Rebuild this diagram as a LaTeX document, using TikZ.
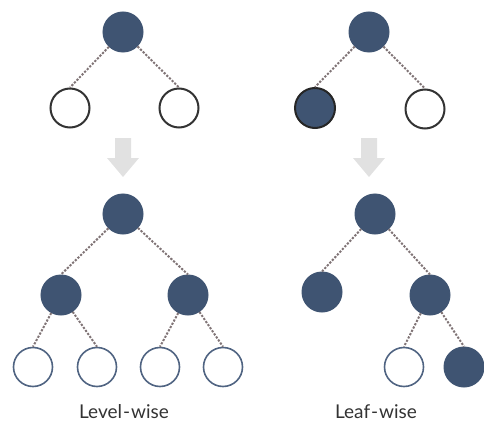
\documentclass[tikz,border=0pt]{standalone}
\usepackage{fontspec}
\setmainfont{Lato}
\begin{document}
\begin{tikzpicture}[x=1pt,y=-1pt,
  filled/.style={circle,minimum size=40pt,inner sep=0pt,fill=nodeblue,draw=nodeblue,line width=1pt},
  filledk/.style={circle,minimum size=40pt,inner sep=0pt,fill=nodeblue,draw=black!85,line width=2pt},
  opentop/.style={circle,minimum size=39pt,inner sep=0pt,fill=white,draw=black!80,line width=2pt},
  openbot/.style={circle,minimum size=39pt,inner sep=0pt,fill=white,draw=outblue,line width=1.6pt},
  link/.style={draw=linkgray,line width=2pt,dash pattern=on 2.2pt off 1.5pt},
  lbl/.style={text=black!80,font=\fontsize{19}{21}\selectfont}
]
\definecolor{nodeblue}{RGB}{63,84,114}
\definecolor{outblue}{RGB}{80,100,130}
\definecolor{linkgray}{RGB}{128,116,118}
\definecolor{arrgray}{RGB}{225,225,225}
\useasboundingbox (0,0) rectangle (484,433);

% top-left tree
\node[filled] (tlr) at (123,32) {};
\node[opentop] (tla) at (70,108) {};
\node[opentop] (tlb) at (179,108) {};
\draw[link] (tlr) -- (tla.north);
\draw[link] (tlr) -- (tlb.north);

% top-right tree
\node[filled] (trr) at (369,32) {};
\node[filledk] (tra) at (315,108) {};
\node[opentop] (trb) at (425,109) {};
\draw[link] (trr) -- (tra.north);
\draw[link] (trr) -- (trb.north);

% arrows
\fill[arrgray] (115,138) -- (131,138) -- (131,158) -- (139,158) -- (123,177) -- (107,158) -- (115,158) -- cycle;
\fill[arrgray] (361,138) -- (377,138) -- (377,158) -- (385,158) -- (369,177) -- (353,158) -- (361,158) -- cycle;

% bottom-left tree
\node[filled] (blr) at (123,214) {};
\node[filled] (bla) at (61,295) {};
\node[filled] (blb) at (188,295) {};
\node[openbot] (bl1) at (33,367) {};
\node[openbot] (bl2) at (97,367) {};
\node[openbot] (bl3) at (160,367) {};
\node[openbot] (bl4) at (223,367) {};
\draw[link] (blr) -- (bla.north);
\draw[link] (blr) -- (blb.north);
\draw[link] (bla) -- (bl1.north);
\draw[link] (bla) -- (bl2.north);
\draw[link] (blb) -- (bl3.north);
\draw[link] (blb) -- (bl4.north);

% bottom-right tree
\node[filled] (brr) at (375,214) {};
\node[filled] (bra) at (322,292) {};
\node[filled] (brb) at (430,295) {};
\node[openbot] (br1) at (404,367) {};
\node[filled] (br2) at (464,367) {};
\draw[link] (brr) -- (bra.north);
\draw[link] (brr) -- (brb.north);
\draw[link] (brb) -- (br1.north);
\draw[link] (brb) -- (br2.north);

% labels
\node[lbl] (l1) at (124,412) {Level\kern1pt-\kern1pt wise};
\node[lbl] (l2) at (376,412) {Leaf\kern1pt-\kern1pt wise};
\end{tikzpicture}
\end{document}
